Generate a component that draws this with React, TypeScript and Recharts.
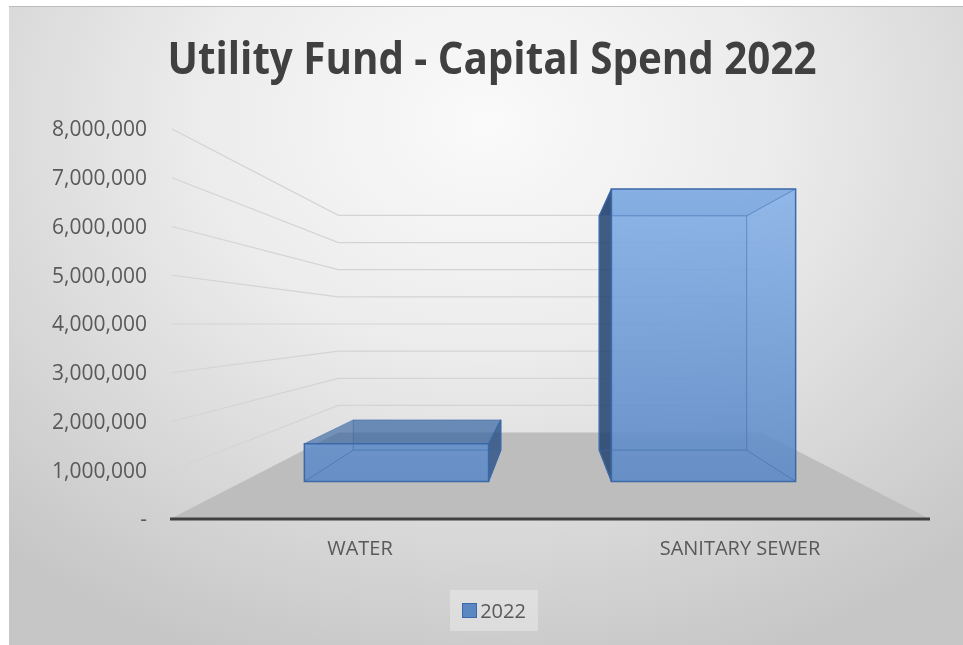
import { Bar, BarChart, CartesianGrid, XAxis, YAxis } from "recharts";

// values (front face of each column)
const categories = ["WATER", "SANITARY SEWER"];
const spend2022 = [960000, 7430000];
const yTicks = [0, 1000000, 2000000, 3000000, 4000000, 5000000, 6000000, 7000000, 8000000];
const seriesName = "2022";
const chartTitle = "Utility Fund - Capital Spend 2022";

const data = categories.map((name, i) => ({ name, value: spend2022[i] }));

const W = 954;
const H = 639;
const MARGIN = { top: 122, right: 33, bottom: 87, left: 0 };
const Y_AXIS_W = 161;
const X_AXIS_H = 40;
const PLOT = {
  left: MARGIN.left + Y_AXIS_W,
  right: W - MARGIN.right,
  top: MARGIN.top,
  bottom: H - MARGIN.bottom - X_AXIS_H,
};

// fake perspective: everything shrinks toward the middle of the plot
const VX = (PLOT.left + PLOT.right) / 2;
const VY = (PLOT.top + PLOT.bottom) / 2;
const FRONT = 0.808; // depth of the column front faces
const BACK = 0.647; // depth of the column back faces
const WALL = 0.557; // depth of the back wall

const FONT = "'Open Sans', 'Noto Sans', sans-serif";

type Pt = [number, number];
const proj = (x: number, y: number, s: number): Pt => [VX + (x - VX) * s, VY + (y - VY) * s];
const pts = (arr: Pt[]) => arr.map((p) => `${p[0]},${p[1]}`).join(" ");

const fmtTick = (v: number) => (v === 0 ? "-" : v.toLocaleString("en-US"));

function WallLine(props: any) {
  const { x1, y1, x2, y2 } = props;
  const back = proj(x1, y1, WALL);
  const backRight = proj(x2, y2, WALL);
  if (Math.abs(y1 - PLOT.bottom) < 1) {
    return (
      <polygon
        key={props.key}
        points={pts([[x1, y1], [x2, y2], backRight, back])}
        fill="#bdbdbd"
        stroke="none"
      />
    );
  }
  return (
    <polyline
      key={props.key}
      points={pts([[x1 + 2, y1], back, backRight])}
      fill="none"
      stroke="#d4d4d4"
      strokeWidth={1.2}
    />
  );
}

function Column3D(props: any) {
  const { x, y, width, height } = props;
  if (!height) return null;
  const corners: Pt[] = [
    [x, y],
    [x + width, y],
    [x + width, y + height],
    [x, y + height],
  ];
  const F = corners.map(([px, py]) => proj(px, py, FRONT));
  const B = corners.map(([px, py]) => proj(px, py, BACK));
  const onLeft = x + width / 2 < VX;
  const seenSide = onLeft ? [F[1], B[1], B[2], F[2]] : [F[0], B[0], B[3], F[3]];
  const hiddenSide = onLeft ? [F[0], B[0], B[3], F[3]] : [F[1], B[1], B[2], F[2]];
  const edge = "#3b69a8";
  return (
    <g>
      <polygon points={pts(B)} fill="#3f6fae" fillOpacity={0.3} />
      <polygon points={pts(hiddenSide)} fill="#3f6fae" fillOpacity={0.15} />
      <polygon points={pts([F[3], F[2], B[2], B[3]])} fill="#3f6fae" fillOpacity={0.2} />
      <polygon points={pts([F[0], F[1], B[1], B[0]])} fill="#2d5c9c" fillOpacity={0.55} />
      <polygon points={pts(seenSide)} fill={onLeft ? "#2f5283" : "#22406b"} fillOpacity={0.8} />
      <polygon points={pts(F)} fill="url(#colFace)" fillOpacity={0.85} />
      <g stroke={edge} strokeOpacity={0.55} strokeWidth={1} fill="none">
        <polygon points={pts(B)} />
        {F.map((p, i) => (
          <line key={i} x1={p[0]} y1={p[1]} x2={B[i][0]} y2={B[i][1]} />
        ))}
      </g>
      <polygon points={pts(F)} fill="none" stroke={edge} strokeWidth={1.5} />
      <polygon points={pts(seenSide)} fill="none" stroke={edge} strokeWidth={1.2} />
    </g>
  );
}

export default function App() {
  return (
    <div
      style={{
        position: "fixed",
        left: 9,
        top: 6,
        width: W,
        height: H,
        borderTop: "1px solid #bcbcbc",
        background:
          "radial-gradient(ellipse 75% 90% at 50% 18%, #fafafa 0%, #ececec 40%, #d6d6d6 75%, #c6c6c6 100%)",
        fontFamily: FONT,
      }}
    >
      <svg width={W} height={100} style={{ position: "absolute", left: 0, top: 0 }}>
        <text
          x={483}
          y={67}
          textAnchor="middle"
          textLength={649}
          lengthAdjust="spacingAndGlyphs"
          fontFamily={FONT}
          fontWeight={700}
          fontSize={44}
          fill="#404040"
        >
          {chartTitle}
        </text>
      </svg>

      <div style={{ position: "absolute", left: 0, top: 0 }}>
        <BarChart width={W} height={H} data={data} margin={MARGIN} barCategoryGap="20%">
          <defs>
            <linearGradient
              id="colFace"
              gradientUnits="userSpaceOnUse"
              x1="0"
              y1={PLOT.top}
              x2="0"
              y2={PLOT.bottom}
            >
              <stop offset="0%" stopColor="#8fbaf0" />
              <stop offset="100%" stopColor="#5785c4" />
            </linearGradient>
          </defs>
          <CartesianGrid vertical={false} horizontal={WallLine} />
          <XAxis
            dataKey="name"
            height={X_AXIS_H}
            tickLine={false}
            tickSize={0}
            tickMargin={22}
            axisLine={{ stroke: "#404040", strokeWidth: 3 }}
            tick={{ fontSize: 20, fill: "#595959", fontFamily: FONT }}
          />
          <YAxis
            width={Y_AXIS_W}
            domain={[0, 8000000]}
            ticks={yTicks}
            tickFormatter={fmtTick}
            axisLine={false}
            tickLine={false}
            tickSize={0}
            tickMargin={23}
            tick={{ fontSize: 21, fill: "#595959", fontFamily: FONT }}
          />
          <Bar dataKey="value" name={seriesName} shape={Column3D} isAnimationActive={false} />
        </BarChart>
      </div>

      <div
        style={{
          position: "absolute",
          left: 441,
          top: 583,
          width: 88,
          height: 41,
          background: "rgba(255,255,255,0.3)",
          display: "flex",
          alignItems: "center",
          justifyContent: "center",
          gap: 3,
          fontSize: 20,
          color: "#595959",
        }}
      >
        <span
          style={{
            width: 13,
            height: 13,
            background: "#5b87c2",
            border: "1px solid #3b69a8",
            display: "inline-block",
          }}
        />
        <span>{seriesName}</span>
      </div>
    </div>
  );
}
